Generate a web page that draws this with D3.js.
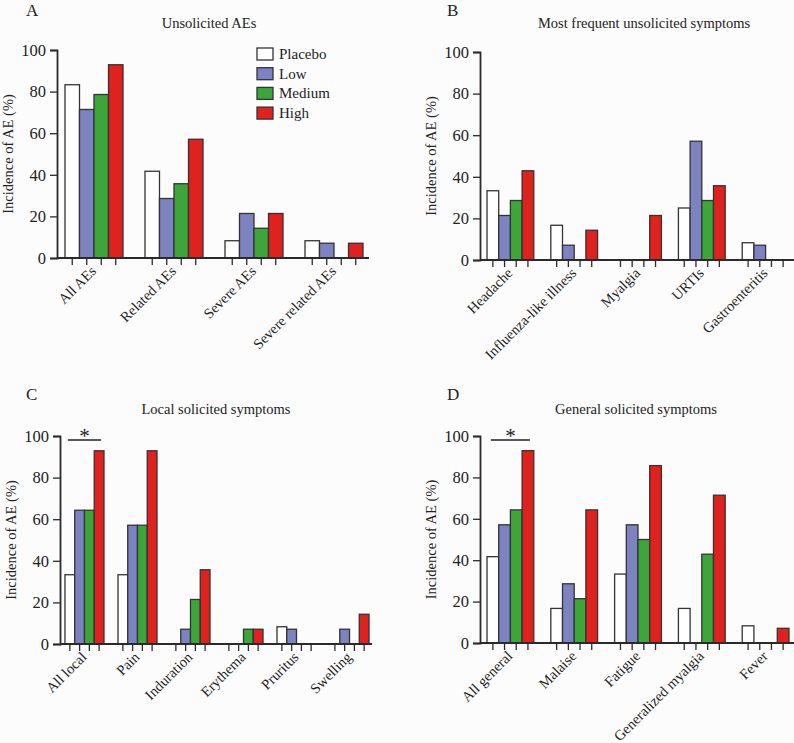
<!DOCTYPE html>
<html>
<head>
<meta charset="utf-8">
<script src="https://cdn.jsdelivr.net/npm/d3@7"></script>
<style>
  html, body { margin: 0; padding: 0; background: #fcfcfc; }
  svg { display: block; font-family: "Liberation Serif", "Times New Roman", serif; }
</style>
</head>
<body>
<svg id="chart" width="794" height="743"></svg>
<script>
// ---------- data ----------
const series = ["Placebo", "Low", "Medium", "High"];
const seriesColors = ["#ffffff", "#7d82c1", "#3ea53a", "#e0221f"];
const yTicks = [0, 20, 40, 60, 80, 100];

const catsA = ["All AEs", "Related AEs", "Severe AEs", "Severe related AEs"];
const placeboA = [83.3, 41.7, 8.3, 8.3];
const lowA = [71.4, 28.6, 21.4, 7.1];
const mediumA = [78.6, 35.7, 14.3, 0];
const highA = [92.9, 57.1, 21.4, 7.1];

const catsB = ["Headache", "Influenza-like illness", "Myalgia", "URTIs", "Gastroenteritis"];
const placeboB = [33.3, 16.7, 0, 25.0, 8.3];
const lowB = [21.4, 7.1, 0, 57.1, 7.1];
const mediumB = [28.6, 0, 0, 28.6, 0];
const highB = [42.9, 14.3, 21.4, 35.7, 0];

const catsC = ["All local", "Pain", "Induration", "Erythema", "Pruritus", "Swelling"];
const placeboC = [33.3, 33.3, 0, 0, 8.3, 0];
const lowC = [64.3, 57.1, 7.1, 0, 7.1, 7.1];
const mediumC = [64.3, 57.1, 21.4, 7.1, 0, 0];
const highC = [92.9, 92.9, 35.7, 7.1, 0, 14.3];

const catsD = ["All general", "Malaise", "Fatigue", "Generalized myalgia", "Fever"];
const placeboD = [41.7, 16.7, 33.3, 16.7, 8.3];
const lowD = [57.1, 28.6, 57.1, 0, 0];
const mediumD = [64.3, 21.4, 50.0, 42.9, 0];
const highD = [92.9, 64.3, 85.7, 71.4, 7.1];

// ---------- drawing ----------
const svg = d3.select("#chart");
const axisColor = "#2a2a2a";

function panel(cfg) {
  const g = svg.append("g");
  const y = d3.scaleLinear().domain([0, 100]).range([cfg.y0, cfg.y100]);
  const x = d3.scaleBand().domain(cfg.cats).range([cfg.x0, cfg.x1])
    .paddingInner(cfg.pi).paddingOuter(cfg.po);
  const xs = d3.scaleBand().domain(series).range([0, x.bandwidth()]);
  const data = [];
  cfg.cats.forEach((c, i) => {
    series.forEach((s, j) => data.push({ cat: c, s: s, j: j, v: cfg.vals[j][i] }));
  });

  // bars
  g.selectAll("rect.bar").data(data.filter(d => d.v > 0)).join("rect")
    .attr("class", "bar")
    .attr("x", d => x(d.cat) + xs(d.s))
    .attr("width", xs.bandwidth())
    .attr("y", d => y(d.v))
    .attr("height", d => y(0) - y(d.v))
    .attr("fill", d => seriesColors[d.j])
    .attr("stroke", "#333")
    .attr("stroke-width", 1.3);

  // x ticks at every bar
  g.selectAll("line.xt").data(data).join("line")
    .attr("x1", d => x(d.cat) + xs(d.s) + xs.bandwidth() / 2)
    .attr("x2", d => x(d.cat) + xs(d.s) + xs.bandwidth() / 2)
    .attr("y1", y(0)).attr("y2", y(0) + 7)
    .attr("stroke", axisColor).attr("stroke-width", 1.3);

  // x axis line
  g.append("line").attr("x1", cfg.x0).attr("x2", cfg.xEnd)
    .attr("y1", y(0)).attr("y2", y(0))
    .attr("stroke", axisColor).attr("stroke-width", 1.8);

  // y axis
  const yAxis = d3.axisLeft(y).tickValues(yTicks).tickSize(7).tickPadding(4);
  const ya = g.append("g").attr("transform", `translate(${cfg.x0},0)`).call(yAxis);
  ya.select(".domain").attr("stroke", axisColor).attr("stroke-width", 1.8);
  ya.selectAll(".tick line").attr("stroke", axisColor).attr("stroke-width", 1.3);
  ya.selectAll(".tick text").attr("fill", "#222").style("font-size", "16.5px")
    .style("font-family", "Liberation Serif, serif");

  // category labels
  g.selectAll("text.cat").data(cfg.cats).join("text")
    .attr("transform", c => `translate(${x(c) + x.bandwidth() / 2 + 3},${y(0) + 14}) rotate(-45)`)
    .attr("text-anchor", "end")
    .attr("fill", "#222")
    .style("font-size", "14.5px")
    .text(c => c);

  // y title
  g.append("text")
    .attr("transform", `translate(${cfg.x0 - 44},${(cfg.y0 + cfg.y100) / 2}) rotate(-90)`)
    .attr("text-anchor", "middle")
    .attr("fill", "#222")
    .style("font-size", "14.5px")
    .text("Incidence of AE (%)");

  // title
  g.append("text").attr("x", cfg.tx).attr("y", cfg.ty)
    .attr("text-anchor", "middle").attr("fill", "#222")
    .style("font-size", "14.5px").text(cfg.title);

  // panel letter
  g.append("text").attr("x", cfg.lx).attr("y", cfg.ly)
    .attr("fill", "#222").style("font-size", "17px").text(cfg.letter);

  // significance
  if (cfg.sig) {
    const c = cfg.cats[0];
    const xa = x(c) + xs("Placebo") + xs.bandwidth() / 2 - 2;
    const xb = x(c) + xs("High") + xs.bandwidth() / 2 + 2;
    const yl = y(100) + 4;
    g.append("line").attr("x1", xa).attr("x2", xb).attr("y1", yl).attr("y2", yl)
      .attr("stroke", "#222").attr("stroke-width", 1.5);
    g.append("text").attr("x", (xa + xb) / 2).attr("y", yl + 3)
      .attr("text-anchor", "middle").attr("fill", "#222")
      .style("font-size", "21px").text("*");
  }

  // legend
  if (cfg.legend) {
    const lg = g.append("g");
    series.forEach((s, j) => {
      const cy = cfg.legend.y + j * 19.7;
      lg.append("rect").attr("x", cfg.legend.x).attr("y", cy - 6)
        .attr("width", 16).attr("height", 12)
        .attr("fill", seriesColors[j]).attr("stroke", "#333").attr("stroke-width", 1.3);
      lg.append("text").attr("x", cfg.legend.x + 22).attr("y", cy + 5)
        .attr("fill", "#222").style("font-size", "15px").text(s);
    });
  }
}

panel({
  cats: catsA, vals: [placeboA, lowA, mediumA, highA],
  x0: 57, x1: 371, xEnd: 369, pi: 0.275, po: 0.1, y0: 258, y100: 50,
  title: "Unsolicited AEs", tx: 209, ty: 28, letter: "A", lx: 26, ly: 16,
  legend: { x: 257, y: 54 }
});
panel({
  cats: catsB, vals: [placeboB, lowB, mediumB, highB],
  x0: 480, x1: 796, xEnd: 794, pi: 0.267, po: 0.11, y0: 260, y100: 52,
  title: "Most frequent unsolicited symptoms", tx: 644, ty: 28, letter: "B", lx: 447, ly: 16
});
panel({
  cats: catsC, vals: [placeboC, lowC, mediumC, highC],
  x0: 60, x1: 374, xEnd: 372, pi: 0.264, po: 0.094, y0: 644, y100: 436,
  title: "Local solicited symptoms", tx: 216, ty: 414, letter: "C", lx: 26, ly: 400,
  sig: true
});
panel({
  cats: catsD, vals: [placeboD, lowD, mediumD, highD],
  x0: 480, x1: 796, xEnd: 794, pi: 0.267, po: 0.11, y0: 643, y100: 436,
  title: "General solicited symptoms", tx: 636, ty: 414, letter: "D", lx: 447, ly: 400,
  sig: true
});
</script>
</body>
</html>
